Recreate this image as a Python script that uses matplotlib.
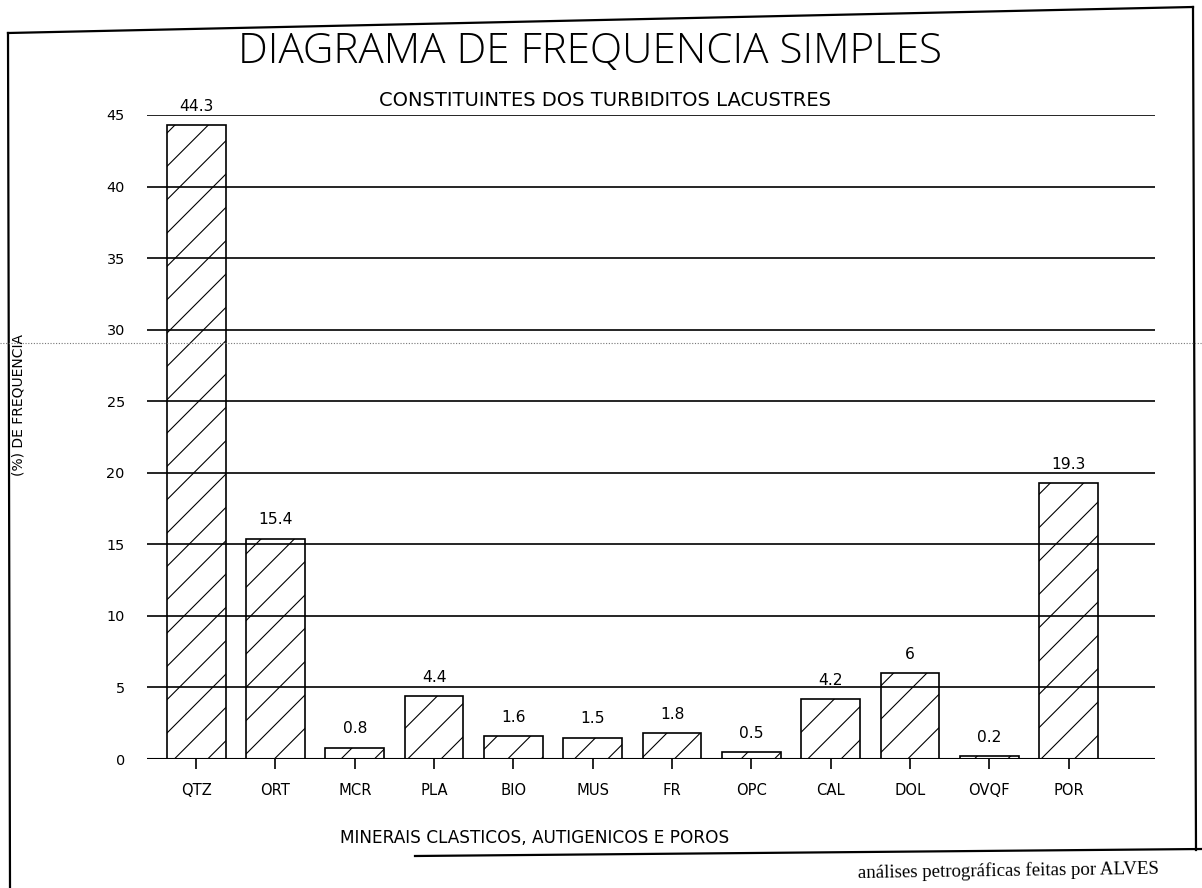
import matplotlib
matplotlib.use('Agg')
import matplotlib.pyplot as plt
from matplotlib.lines import Line2D

# ---- data ----
categories = ['QTZ', 'ORT', 'MCR', 'PLA', 'BIO', 'MUS', 'FR', 'OPC', 'CAL', 'DOL', 'OVQF', 'POR']
values = [44.3, 15.4, 0.8, 4.4, 1.6, 1.5, 1.8, 0.5, 4.2, 6, 0.2, 19.3]
yticks = [0, 5, 10, 15, 20, 25, 30, 35, 40, 45]

title = 'DIAGRAMA DE FREQUENCIA SIMPLES'
subtitle = 'CONSTITUINTES DOS TURBIDITOS LACUSTRES'
xlabel = 'MINERAIS CLASTICOS, AUTIGENICOS E POROS'
ylabel = '(%) DE FREQUENCIA'
footnote = 'análises petrográficas feitas por ALVES'

W, H = 1202, 888
DPI = 200
plt.rcParams['font.family'] = ['DejaVu Sans']
plt.rcParams['hatch.linewidth'] = 0.4
plt.rcParams['hatch.color'] = 'black'

fig = plt.figure(figsize=(W / DPI, H / DPI), dpi=DPI)
fig.patch.set_facecolor('white')

def fx(px):
    return px / W

def fy(py):
    return 1 - py / H

ax = fig.add_axes([fx(147), fy(759), fx(1155) - fx(147), fy(115) - fy(759)])
ax.set_facecolor('none')

xpos = list(range(len(categories)))
ax.bar(xpos, values, width=0.74, facecolor='none', edgecolor='black',
       linewidth=0.6, hatch='//', zorder=3)

for yv in yticks:
    ax.axhline(yv, color='black', linewidth=0.6 if yv else 0.75, zorder=2)

for i, v in enumerate(values):
    ax.annotate(f'{v:g}', (i, v), xytext=(0, 4.0), textcoords='offset points',
                ha='center', va='bottom', fontsize=5.6, zorder=4)

ax.set_xlim(-0.62, 12.09)
ax.set_ylim(0, 45)
ax.set_xticks(xpos)
ax.set_xticklabels(categories, fontsize=5.3)
ax.set_yticks(yticks)
ax.set_yticklabels([str(t) for t in yticks], fontsize=5.2)
ax.tick_params(axis='x', direction='out', length=3.6, width=0.6, pad=5.0)
ax.tick_params(axis='y', length=0, pad=8.0)
for s in ax.spines.values():
    s.set_visible(False)

# titles and labels
fig.text(fx(590), fy(52), title, ha='center', va='center', fontsize=15.2,
         family=['Open Sans', 'DejaVu Sans'], fontweight='light')
fig.text(fx(605), fy(100), subtitle, ha='center', va='center', fontsize=7.0)
fig.text(fx(535), fy(838), xlabel, ha='center', va='center', fontsize=6.1)
fig.text(fx(19), fy(405), ylabel, ha='center', va='center', fontsize=5.0, rotation=90)
fig.text(fx(858), fy(871), footnote, ha='left', va='center', fontsize=6.8,
         family=['Liberation Serif', 'DejaVu Serif'], rotation=0.8)

# page frame (scanned sheet border)
border = [
    ((8, 33), (1193, 7)),
    ((8, 33), (10, 888)),
    ((1193, 7), (1196, 850)),
    ((415, 856), (1202, 849)),
]
for (x0, y0), (x1, y1) in border:
    fig.add_artist(Line2D([fx(x0), fx(x1)], [fy(y0), fy(y1)], transform=fig.transFigure,
                          color='black', linewidth=0.8))
# faint scanner seam
fig.add_artist(Line2D([0, 1], [fy(343), fy(343)], transform=fig.transFigure,
                      color='#777777', linewidth=0.4, linestyle=(0, (1, 1.5))))

fig.savefig('out.png', dpi=DPI, facecolor='white')
